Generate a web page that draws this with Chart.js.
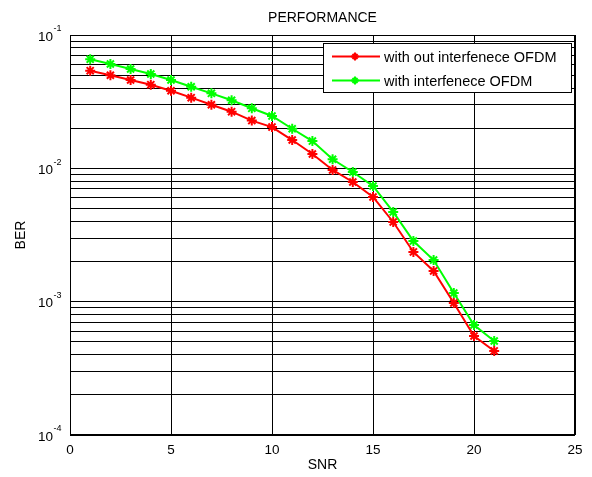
<!DOCTYPE html>
<html>
<head>
<meta charset="utf-8">
<script src="https://cdn.jsdelivr.net/npm/chart.js@4.4.1/dist/chart.umd.min.js"></script>
<style>
  body { margin: 0; background: #fff; }
  #wrap { width: 592px; height: 477px; }
</style>
</head>
<body>
<div id="wrap"><canvas id="c" width="592" height="477"></canvas></div>
<script>
const snr = [1, 2, 3, 4, 5, 6, 7, 8, 9, 10, 11, 12, 13, 14, 15, 16, 17, 18, 19, 20, 21];
const berNoInterf = [0.0540, 0.0499, 0.0460, 0.0424, 0.0382, 0.0339, 0.0300, 0.0266, 0.0228, 0.0204,
  0.0163, 0.0128, 0.00972, 0.00790, 0.00610, 0.00396, 0.00236, 0.00170, 0.000977, 0.000553, 0.000427];
const berInterf = [0.0658, 0.0606, 0.0556, 0.0510, 0.0460, 0.0409, 0.0365, 0.0324, 0.0282, 0.0247,
  0.0198, 0.0160, 0.0117, 0.00939, 0.00737, 0.00471, 0.00285, 0.00205, 0.00116, 0.000668, 0.000507];
const seriesNames = ['with out interfenece OFDM', 'with interfenece OFDM'];
const xTicks = [0, 5, 10, 15, 20, 25];
const yDecades = [-4, -3, -2, -1];

const FONT = 'Liberation Sans, Arial, sans-serif';

// every grid line of the log axis: 1..9 x 10^n
const yGrid = [];
yDecades.forEach(d => {
  for (let m = 1; m <= 9; m++) {
    if (d === -1 && m > 1) break;
    yGrid.push(m * Math.pow(10, d));
  }
});

// custom bits: title, axis labels, superscript ticks, box, legend
const decor = {
  id: 'decor',
  afterDraw(chart) {
    const ctx = chart.ctx;
    const a = chart.chartArea;
    const y = chart.scales.y;
    ctx.save();
    ctx.fillStyle = '#000';

    // y labels 10^n
    yDecades.forEach(d => {
      const py = y.getPixelForValue(Math.pow(10, d));
      ctx.font = '13.5px ' + FONT;
      ctx.textAlign = 'left';
      ctx.textBaseline = 'middle';
      ctx.fillText('10', 38, py + 2);
      ctx.font = '9px ' + FONT;
      ctx.fillText(String(d), 53.5, py - 6);
    });

    // title + axis titles
    ctx.font = '14px ' + FONT;
    ctx.textAlign = 'center';
    ctx.textBaseline = 'middle';
    ctx.fillText('PERFORMANCE', (a.left + a.right) / 2, 18);
    ctx.fillText('SNR', (a.left + a.right) / 2, 465);
    ctx.save();
    ctx.translate(21, (a.top + a.bottom) / 2);
    ctx.rotate(-Math.PI / 2);
    ctx.fillText('BER', 0, 0);
    ctx.restore();

    // plot box
    ctx.strokeStyle = '#000';
    ctx.lineWidth = 1;
    ctx.strokeRect(a.left + 0.5, a.top + 0.5, a.right - a.left - 1, a.bottom - a.top - 1);

    // legend
    const lx = 323, ly = 43, lw = 248, lh = 49;
    ctx.fillStyle = '#fff';
    ctx.fillRect(lx, ly, lw, lh);
    ctx.strokeRect(lx + 0.5, ly + 0.5, lw, lh);
    const cols = ['#ff0000', '#00ff00'];
    const rows = [56.5, 80.5];
    seriesNames.forEach((name, i) => {
      ctx.strokeStyle = cols[i];
      ctx.lineWidth = 2;
      ctx.beginPath();
      ctx.moveTo(332, rows[i]);
      ctx.lineTo(380, rows[i]);
      ctx.stroke();
      // marker
      const cx = 355, cy = rows[i], r = 4;
      ctx.beginPath();
      ctx.moveTo(cx - r, cy); ctx.lineTo(cx + r, cy);
      ctx.moveTo(cx, cy - r); ctx.lineTo(cx, cy + r);
      ctx.moveTo(cx - 2.5, cy - 2.5); ctx.lineTo(cx + 2.5, cy + 2.5);
      ctx.moveTo(cx - 2.5, cy + 2.5); ctx.lineTo(cx + 2.5, cy - 2.5);
      ctx.stroke();
      ctx.fillStyle = '#000';
      ctx.font = '14.5px ' + FONT;
      ctx.textAlign = 'left';
      ctx.textBaseline = 'middle';
      ctx.fillText(name, 384, rows[i] + 1);
    });
    ctx.restore();
  }
};

const toPts = arr => snr.map((x, i) => ({ x: x, y: arr[i] }));

new Chart(document.getElementById('c'), {
  type: 'line',
  data: {
    datasets: [
      {
        label: seriesNames[0],
        data: toPts(berNoInterf),
        borderColor: '#ff0000',
        backgroundColor: '#ff0000',
        borderWidth: 2,
        pointStyle: 'star',
        pointRadius: 5,
        pointBorderWidth: 2,
        tension: 0
      },
      {
        label: seriesNames[1],
        data: toPts(berInterf),
        borderColor: '#00ff00',
        backgroundColor: '#00ff00',
        borderWidth: 2,
        pointStyle: 'star',
        pointRadius: 5,
        pointBorderWidth: 2,
        tension: 0
      }
    ]
  },
  options: {
    responsive: false,
    animation: false,
    layout: { padding: { top: 35, right: 17, left: 0, bottom: 0 } },
    plugins: { legend: { display: false }, tooltip: { enabled: false } },
    scales: {
      x: {
        type: 'linear',
        min: 0,
        max: 25,
        afterBuildTicks: s => { s.ticks = xTicks.map(v => ({ value: v })); },
        afterFit: s => { s.height = 42; },
        grid: { color: '#000', lineWidth: 1, drawTicks: false },
        border: { display: false },
        ticks: {
          color: '#000',
          font: { family: FONT, size: 13.5 },
          padding: 7,
          maxRotation: 0
        }
      },
      y: {
        type: 'logarithmic',
        min: 1e-4,
        max: 1e-1,
        afterBuildTicks: s => { s.ticks = yGrid.map(v => ({ value: v })); },
        afterFit: s => { s.width = 70; },
        grid: { color: '#000', lineWidth: 1, drawTicks: false },
        border: { display: false },
        ticks: { display: false }
      }
    }
  },
  plugins: [decor]
});
</script>
</body>
</html>
